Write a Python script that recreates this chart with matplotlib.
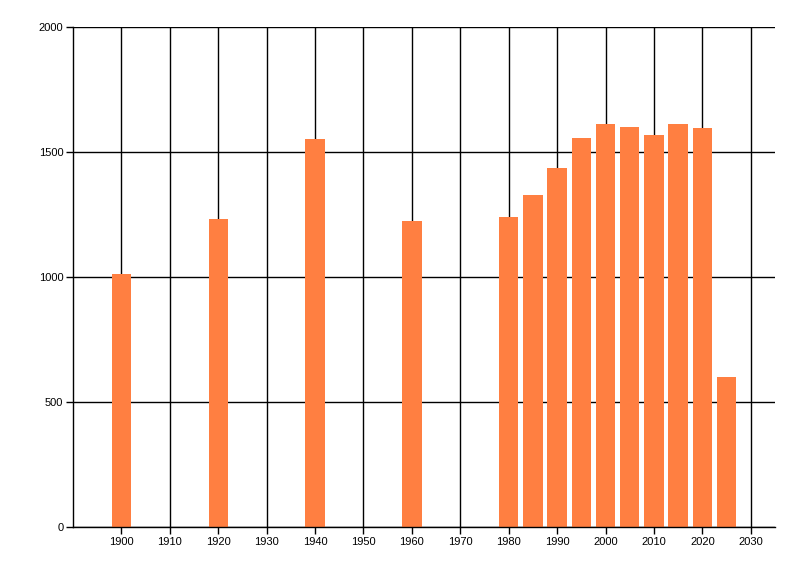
import numpy as np
import matplotlib
matplotlib.use('Agg')
import matplotlib.pyplot as plt

# données
years = [1900, 1920, 1940, 1960, 1980, 1985, 1990, 1995, 2000, 2005, 2010, 2015, 2020, 2025]
values = [1012, 1234, 1553, 1226, 1242, 1330, 1437, 1557, 1613, 1602, 1570, 1613, 1597, 600]
xticks = list(range(1900, 2031, 10))
yticks = [0, 500, 1000, 1500, 2000]

plt.rcParams['font.family'] = ['Liberation Sans', 'DejaVu Sans']

fig = plt.figure(figsize=(8, 5.76), dpi=100)
ax = fig.add_axes([73/800, 49/576, 702/800, 500/576])

ax.bar(years, values, width=4, color='#FF7F41', zorder=3)

ax.set_xlim(1890, 2035)
ax.set_ylim(0, 2000)
ax.set_xticks(xticks)
ax.set_yticks(yticks)
ax.tick_params(axis='both', labelsize=8, length=5, width=1, color='black', pad=2)
ax.grid(True, color='black', linewidth=1, zorder=1)

for side in ['top', 'right']:
    ax.spines[side].set_visible(False)
for side in ['left', 'bottom']:
    ax.spines[side].set_linewidth(1)
    ax.spines[side].set_zorder(4)

fig.savefig('out.png', dpi=100)
